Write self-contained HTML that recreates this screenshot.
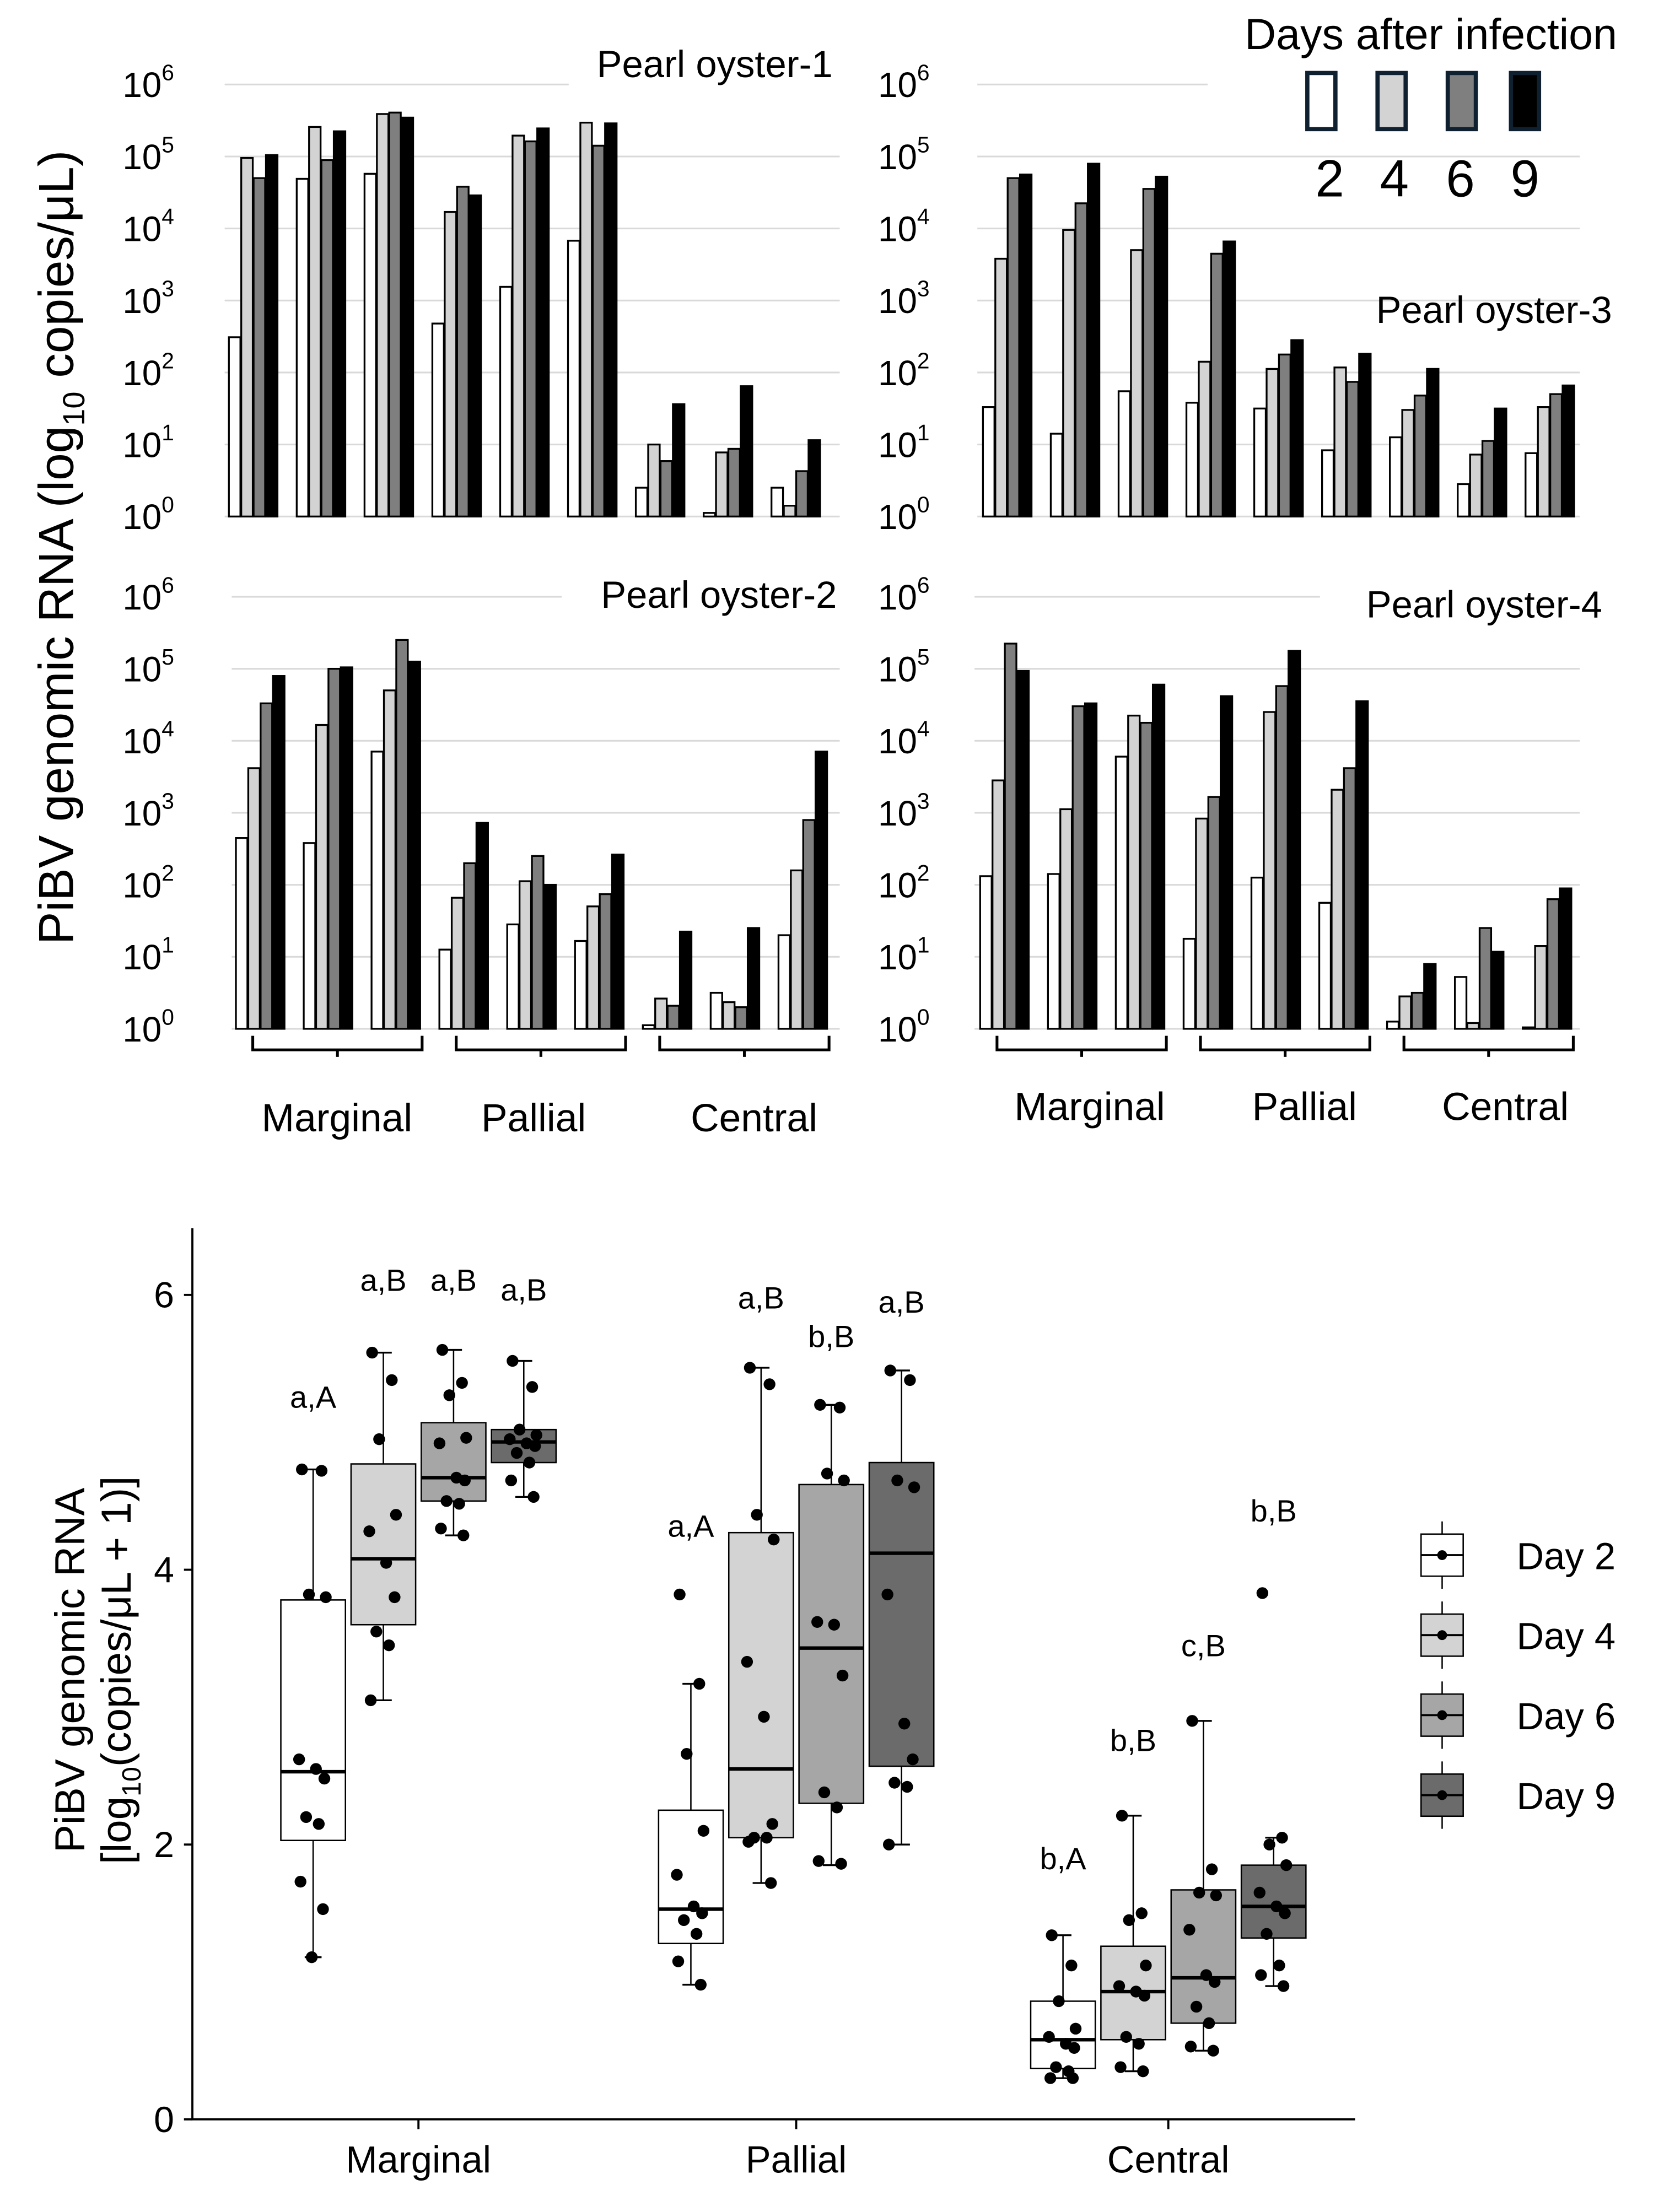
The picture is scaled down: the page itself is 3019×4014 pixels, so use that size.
<!DOCTYPE html>
<html><head><meta charset="utf-8"><style>
html,body{margin:0;padding:0;background:#fff;}
svg{display:block;font-family:"Liberation Sans",sans-serif;}
</style></head><body>
<svg id="fig" width="3019" height="4014" viewBox="0 0 1185 1576" preserveAspectRatio="none" xmlns="http://www.w3.org/2000/svg">
<rect width="1185" height="1576" fill="#fff"/>
<text transform="translate(52,390) rotate(-90)" text-anchor="middle" font-size="35" fill="#000">PiBV genomic RNA (log<tspan font-size="22" dy="8">10</tspan><tspan dy="-8"> copies/μL)</tspan></text>
<g>
<text x="1019" y="35" text-anchor="middle" font-size="31">Days after infection</text>
<rect x="931" y="52" width="20" height="40" fill="#fff" stroke="#0f2030" stroke-width="3"/>
<rect x="981" y="52" width="20" height="40" fill="#d3d3d3" stroke="#0f2030" stroke-width="3"/>
<rect x="1031" y="52" width="20" height="40" fill="#7f7f7f" stroke="#0f2030" stroke-width="3"/>
<rect x="1076" y="52" width="20" height="40" fill="#000" stroke="#0f2030" stroke-width="3"/>
<text x="947" y="140" text-anchor="middle" font-size="37">2</text>
<text x="993" y="140" text-anchor="middle" font-size="37">4</text>
<text x="1040" y="140" text-anchor="middle" font-size="37">6</text>
<text x="1086" y="140" text-anchor="middle" font-size="37">9</text>
</g>
<text transform="translate(60,1190) rotate(-90)" text-anchor="middle" font-size="30">PiBV genomic RNA</text>
<text transform="translate(93,1190) rotate(-90)" text-anchor="middle" font-size="30">[log<tspan font-size="19" dy="7">10</tspan><tspan dy="-7">(copies/μL + 1)]</tspan></text>
<g id="bars"></g>
<g id="box"></g>
</svg>
<script>
// ---------- Bar chart data (log10 copies/uL) ----------
const barSeriesNames = ["Day 2","Day 4","Day 6","Day 9"];
const oyster1 = [[2.49,4.98,4.70,5.02],[4.69,5.41,4.95,5.35],[4.76,5.59,5.61,5.54],[2.68,4.23,4.58,4.46],[3.19,5.29,5.21,5.39],[3.83,5.47,5.15,5.46],[0.40,1.00,0.77,1.56],[0.05,0.89,0.94,1.81],[0.40,0.15,0.63,1.06]];
const oyster3 = [[1.52,3.58,4.70,4.75],[1.15,3.98,4.35,4.90],[1.74,3.70,4.55,4.72],[1.58,2.15,3.65,3.82],[1.50,2.05,2.25,2.45],[0.92,2.07,1.87,2.26],[1.10,1.48,1.68,2.05],[0.45,0.86,1.05,1.50],[0.88,1.52,1.70,1.82]];
const oyster2 = [[2.65,3.62,4.52,4.90],[2.58,4.22,5.00,5.02],[3.85,4.70,5.40,5.10],[1.10,1.82,2.30,2.86],[1.45,2.05,2.40,2.00],[1.22,1.70,1.87,2.42],[0.05,0.42,0.32,1.35],[0.50,0.37,0.30,1.40],[1.30,2.20,2.90,3.85]];
const oyster4 = [[2.12,3.45,5.35,4.97],[2.15,3.05,4.48,4.52],[3.78,4.35,4.25,4.78],[1.25,2.92,3.22,4.62],[2.10,4.40,4.76,5.25],[1.75,3.32,3.62,4.55],[0.10,0.45,0.50,0.90],[0.72,0.08,1.40,1.07],[0.02,1.15,1.80,1.95]];
const tissueLabels = ["Marginal","Pallial","Central"];
const decadeTicks = [0,1,2,3,4,5,6];

// ---------- Box plot data ----------
const boxCategories = ["Marginal","Pallial","Central"];
const boxDays = ["Day 2","Day 4","Day 6","Day 9"];
const boxQ1 = [[2.03,3.60,4.50,4.78],[1.28,2.05,2.30,2.57],[0.37,0.58,0.70,1.32]];
const boxMedian = [[2.53,4.08,4.67,4.93],[1.53,2.55,3.43,4.12],[0.58,0.93,1.03,1.55]];
const boxQ3 = [[3.78,4.77,5.07,5.02],[2.25,4.27,4.62,4.78],[0.86,1.26,1.67,1.85]];
const boxLow = [[1.18,3.05,4.25,4.53],[0.98,1.72,1.85,2.00],[0.30,0.35,0.50,0.97]];
const boxHigh = [[4.73,5.58,5.60,5.52],[3.17,5.47,5.20,5.45],[1.34,2.21,2.90,2.05]];
const boxPoints = [
 [[4.73,4.72,3.82,3.80,2.62,2.55,2.48,2.20,2.15,1.73,1.53,1.18],[5.58,5.38,4.95,4.40,4.28,4.05,3.80,3.55,3.45,3.05],[5.60,5.36,5.27,4.96,4.92,4.67,4.65,4.50,4.48,4.30,4.25],[5.52,5.33,5.02,4.98,4.95,4.92,4.90,4.85,4.78,4.65,4.53]],
 [[3.82,3.17,2.66,2.10,1.78,1.55,1.50,1.45,1.35,1.15,0.98],[5.47,5.35,4.40,4.22,3.33,2.93,2.15,2.05,2.05,2.02,1.72],[5.20,5.18,4.70,4.65,3.62,3.60,3.23,2.38,2.27,1.88,1.86],[5.45,5.38,4.65,4.60,3.82,2.88,2.62,2.45,2.42,2.00]],
 [[1.34,1.12,0.86,0.66,0.60,0.55,0.52,0.38,0.35,0.30,0.30],[2.21,1.50,1.45,1.12,0.97,0.93,0.90,0.60,0.55,0.38,0.35],[2.90,1.82,1.65,1.63,1.38,1.05,1.00,0.82,0.70,0.53,0.50],[3.83,2.05,2.00,1.85,1.65,1.55,1.50,1.35,1.12,1.05,0.97]]
];
const boxLetters = [["a,A","a,B","a,B","a,B"],["a,A","a,B","b,B","a,B"],["b,A","b,B","c,B","b,B"]];
const boxLetterVal = [[5.18,6.03,6.03,5.96],[4.24,5.90,5.62,5.87],[1.82,2.68,3.37,4.35]];
const yTicks = [0,2,4,6];

const NS="http://www.w3.org/2000/svg";
function mk(tag,attrs,parent){const e=document.createElementNS(NS,tag);for(const k in attrs)e.setAttribute(k,attrs[k]);parent.appendChild(e);return e;}
const barFill=["#ffffff","#d3d3d3","#7f7f7f","#000000"];
const bars=document.getElementById('bars');

function drawPanel(name,data,title,cfg){
  const g=mk('g',{},bars);
  
  
  const y=v=>cfg.base-v*51.3;
  decadeTicks.forEach(d=>{
    const x2 = (d===6)?cfg.gridTopEnd:cfg.gridEnd;
    const gl=mk('line',{x1:cfg.gridStart,x2:x2,y1:y(d),y2:y(d),stroke:'#d9d9d9','stroke-width':1.2},g);
    
    
    const t=mk('text',{x:cfg.labelX,y:y(d)+9,'text-anchor':'end','font-size':25},g);
    
    
    t.textContent='10';
    const s=mk('tspan',{'font-size':16,dy:-12},t);
    s.textContent=String(d);
  });
  data.forEach((grp,i)=>{
    grp.forEach((v,j)=>{
      const x=cfg.x0+i*48.3+j*8.8;
      const r=mk('rect',{x:x,y:y(v),width:8.2,height:Math.max(v*51.3,0.5),fill:barFill[j],stroke:'#000','stroke-width':1.3},g);
      
      
    });
  });
  const tt=mk('text',{x:cfg.titleX,y:cfg.titleY,'text-anchor':'end','font-size':27},g);
  
  
  tt.textContent=title;
  if(cfg.brace){
    tissueLabels.forEach((lab,k)=>{
      const x1=cfg.x0+k*3*48.3+12, x2=cfg.x0+(k*3+2)*48.3+36;
      const b=mk('path',{d:`M${x1},${cfg.base+5} v10 H${x2} v-10 M${(x1+x2)/2},${cfg.base+15} v5`,fill:'none',stroke:'#000','stroke-width':2},g);
      
      
      const lt=mk('text',{x:cfg.labX[k],y:cfg.labY,'text-anchor':'middle','font-size':28},g);
      
      
      lt.textContent=lab;
    });
  }
}
drawPanel('panel-oyster-1',oyster1,'Pearl oyster-1',{base:368,x0:163,gridStart:160,gridEnd:598,gridTopEnd:405,labelX:124,titleX:593,titleY:55,brace:false});
drawPanel('panel-oyster-3',oyster3,'Pearl oyster-3',{base:368,x0:700,gridStart:696,gridEnd:1125,gridTopEnd:860,labelX:662,titleX:1148,titleY:230,brace:false});
drawPanel('panel-oyster-2',oyster2,'Pearl oyster-2',{base:733,x0:168,gridStart:165,gridEnd:598,gridTopEnd:400,labelX:124,titleX:596,titleY:433,brace:true,labX:[240,380,537],labY:806});
drawPanel('panel-oyster-4',oyster4,'Pearl oyster-4',{base:733,x0:698,gridStart:694,gridEnd:1125,gridTopEnd:940,labelX:662,titleX:1141,titleY:440,brace:true,labX:[776,929,1072],labY:798});

// ---------- Box plot ----------
const box=document.getElementById('box');
const by=v=>1510-v*97.9;
const catX=[298,567,832];
const dayOff=[-75,-25,25,75];
const boxFill=["#ffffff","#d3d3d3","#a6a6a6","#6b6b6b"];
const jit=[-8,6,-3,9,-10,2,8,-5,4,-9,7,-1];
const ax=mk('path',{d:'M137,875 V1510 H965',fill:'none',stroke:'#000','stroke-width':1.5},box);


yTicks.forEach(t=>{
  const l=mk('line',{x1:131,x2:137,y1:by(t),y2:by(t),stroke:'#000','stroke-width':1.5},box);
  
  
  const tx=mk('text',{x:124,y:by(t)+9,'text-anchor':'end','font-size':26},box);
  
  
  tx.textContent=t;
});
boxCategories.forEach((c,i)=>{
  const l=mk('line',{x1:catX[i],x2:catX[i],y1:1510,y2:1517,stroke:'#000','stroke-width':1.5},box);
  
  
  const tx=mk('text',{x:catX[i],y:1548,'text-anchor':'middle','font-size':27},box);
  
  
  tx.textContent=c;
  boxDays.forEach((d,j)=>{
    const cx=catX[i]+dayOff[j];
    const g=mk('g',{},box);
    
    
    mk('line',{x1:cx,x2:cx,y1:by(boxHigh[i][j]),y2:by(boxLow[i][j]),stroke:'#000','stroke-width':1},g);
    mk('line',{x1:cx-6,x2:cx+6,y1:by(boxHigh[i][j]),y2:by(boxHigh[i][j]),stroke:'#000','stroke-width':1.3},g);
    mk('line',{x1:cx-6,x2:cx+6,y1:by(boxLow[i][j]),y2:by(boxLow[i][j]),stroke:'#000','stroke-width':1.3},g);
    mk('rect',{x:cx-23,y:by(boxQ3[i][j]),width:46,height:by(boxQ1[i][j])-by(boxQ3[i][j]),fill:boxFill[j],stroke:'#000','stroke-width':1},g);
    mk('line',{x1:cx-23,x2:cx+23,y1:by(boxMedian[i][j]),y2:by(boxMedian[i][j]),stroke:'#000','stroke-width':2.5},g);
    boxPoints[i][j].forEach((v,k)=>{
      const p=mk('circle',{cx:cx+jit[k%jit.length],cy:by(v),r:4.2,fill:'#000'},g);
      
      
    });
    const lt=mk('text',{x:cx,y:by(boxLetterVal[i][j]),'text-anchor':'middle','font-size':22},g);
    
    
    lt.textContent=boxLetters[i][j];
  });
});
// legend
const lg=mk('g',{},box);


boxDays.forEach((d,j)=>{
  const cy=1108+j*57;
  const e=mk('g',{},lg);
  
  
  mk('line',{x1:1027,x2:1027,y1:cy-24,y2:cy+24,stroke:'#000','stroke-width':1},e);
  mk('rect',{x:1012,y:cy-15,width:30,height:30,fill:boxFill[j],stroke:'#000','stroke-width':1},e);
  mk('line',{x1:1012,x2:1042,y1:cy,y2:cy,stroke:'#000','stroke-width':1.5},e);
  mk('circle',{cx:1027,cy:cy,r:3.5,fill:'#000'},e);
  const t=mk('text',{x:1080,y:cy+10,'font-size':27},e);
  t.textContent=d;
});
</script>
</body></html>
